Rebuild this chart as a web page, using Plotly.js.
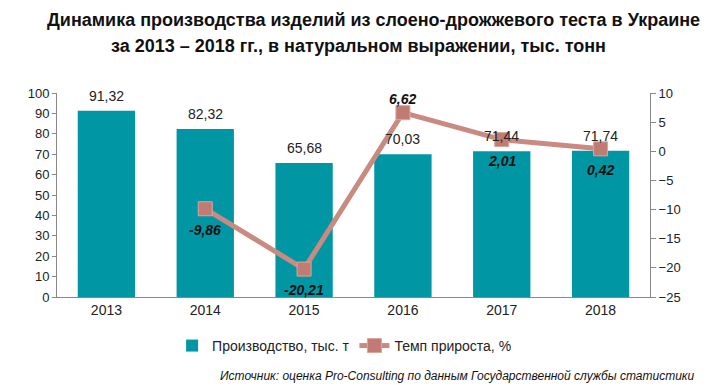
<!DOCTYPE html>
<html><head><meta charset="utf-8">
<script src="https://cdn.plot.ly/plotly-3.0.1.min.js"></script>
<style>body{margin:0;background:#fff}#c{width:716px;height:389px}</style>
</head><body><div id="c"></div>
<script>
const years = ['2013','2014','2015','2016','2017','2018'];
const production = [91.32, 82.32, 65.68, 70.03, 71.44, 71.74];
const growth = [null, -9.86, -20.21, 6.62, 2.01, 0.42];
const growthLabelAbove = [false, false, false, true, false, false];

const F = 'Liberation Sans, Arial, sans-serif';
const fmt = v => v.toFixed(2).replace('.', ',');

const data = [
  {type:'bar', x:years, y:production, name:'Производство, тыс. т',
   marker:{color:'#0096a4'}, width:0.58, hoverinfo:'none'},
  {type:'scatter', mode:'lines+markers', x:years, y:growth, yaxis:'y2',
   name:'Темп прироста, %',
   line:{color:'#c98a82',width:5},
   marker:{symbol:'square',size:14,color:'#c07b72',line:{color:'#d9a59e',width:1}},
   hoverinfo:'none'}
];

const annotations = [
  {text:'<b>Динамика производства изделий из слоено-дрожжевого теста в Украине</b>',
   xref:'paper', yref:'paper', x:0.533, y:1, xanchor:'center', yanchor:'middle', yshift:73,
   showarrow:false, font:{family:F,size:18,color:'#111'}},
  {text:'<b>за 2013 – 2018 гг., в натуральном выражении, тыс. тонн</b>',
   xref:'paper', yref:'paper', x:0.508, y:1, xanchor:'center', yanchor:'middle', yshift:47,
   showarrow:false, font:{family:F,size:18,color:'#111'}},
  {text:'<i>Источник: оценка Pro-Consulting по данным Государственной службы статистики</i>',
   xref:'paper', yref:'paper', x:1.079, y:0, xanchor:'right', yanchor:'middle', yshift:-79,
   showarrow:false, font:{family:F,size:12,color:'#111'}}
];
years.forEach((yr, i) => {
  annotations.push({text:fmt(production[i]), x:i, y:production[i], xref:'x', yref:'y',
    xanchor:'center', yanchor:'middle', yshift:15, showarrow:false,
    font:{family:F,size:14,color:'#222'}});
  if (growth[i] !== null) {
    annotations.push({text:'<b><i>'+fmt(growth[i])+'</i></b>', x:i, y:growth[i], xref:'x', yref:'y2',
      xanchor:'center', yanchor:'middle', yshift: growthLabelAbove[i] ? 14 : -21, showarrow:false,
      font:{family:F,size:14,color:'#111'}});
  }
});

const layout = {
  width:716, height:389, separators:', ',
  margin:{l:57,r:66,t:93,b:92},
  paper_bgcolor:'#fff', plot_bgcolor:'#fff',
  font:{family:F,size:13,color:'#222'},
  showlegend:true,
  legend:{orientation:'h', x:0.485, xanchor:'center', y:-0.24, yanchor:'middle',
          font:{family:F,size:14,color:'#222'}, traceorder:'normal', itemwidth:30},
  xaxis:{type:'category', range:[-0.5, years.length-0.5], showline:true, linecolor:'#888', linewidth:1, ticks:'',
         tickfont:{family:F,size:14,color:'#222'}, showgrid:false, zeroline:false},
  yaxis:{range:[0,100], dtick:10, showline:true, linecolor:'#888', ticks:'outside', ticklen:4,
         tickcolor:'#888', showgrid:false, zeroline:false, tickfont:{family:F,size:13,color:'#222'}},
  yaxis2:{range:[-25,10], dtick:5, overlaying:'y', side:'right', showline:true, linecolor:'#888',
          ticks:'outside', ticklen:5, tickcolor:'#888', showgrid:false, zeroline:false,
          tickfont:{family:F,size:13,color:'#222'}},
  annotations: annotations
};
Plotly.newPlot('c', data, layout, {staticPlot:true});
</script></body></html>
